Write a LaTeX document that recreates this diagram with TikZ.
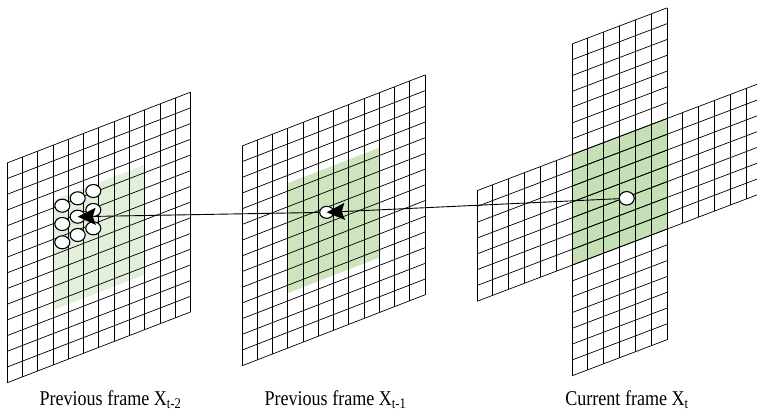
\documentclass[tikz,border=0pt]{standalone}
\usepackage{fontspec}
\setmainfont{Liberation Serif}
\newfontfamily\capfont[FakeStretch=0.86]{Liberation Serif}
\usepackage{tikz}
\usetikzlibrary{arrows.meta,shapes.geometric}

\definecolor{paleGreen}{HTML}{E2EFDA}
\definecolor{midGreen}{HTML}{CDE4BC}
\definecolor{deepGreen}{HTML}{C5E0B4}

\tikzset{
  gridline/.style={black,line width=0.7pt},
  pixel/.style={draw,fill=white,ellipse,inner sep=0pt,minimum width=15pt,minimum height=13pt,line width=1.1pt},
  motion/.style={line width=0.9pt,-{Stealth[length=18pt,width=17pt,inset=3pt]}},
  caption/.style={font=\capfont\fontsize{21}{24}\selectfont,anchor=base}
}

% grid of a frame: #1 columns, #2 rows
\newcommand{\framegrid}[2]{%
  \foreach \i in {0,...,#1} \draw[gridline] (\i,0) -- (\i,#2);
  \foreach \j in {0,...,#2} \draw[gridline] (0,\j) -- (#1,\j);
}

\begin{document}
\begin{tikzpicture}[x=1pt,y=-1pt]
  \useasboundingbox (0,0) rectangle (757,410);

  % previous frame t-2
  \begin{scope}[shift={(7,163)},x=15.3pt,y=-15.7pt,yslant=0.386]
    \fill[paleGreen] (3,3.5) -- (9,3.5) -- (9,10.5) -- (3,10.5) -- cycle;
    \framegrid{12}{14}
  \end{scope}

  % previous frame t-1
  \begin{scope}[shift={(242,146)},x=15.25pt,y=-15.7pt,yslant=0.388]
    \fill[midGreen] (3,3.5) -- (9,3.5) -- (9,10.5) -- (3,10.5) -- cycle;
    \framegrid{12}{14}
  \end{scope}

  % current frame t (cross)
  \begin{scope}[shift={(572,44)},x=15.83pt,y=-15.8pt,yslant=0.38]
    \fill[deepGreen] (0,7) -- (6,7) -- (6,14) -- (0,14) -- cycle;
    \framegrid{6}{21}
  \end{scope}
  \begin{scope}[shift={(477,190.7)},x=15.83pt,y=-15.8pt,yslant=0.38]
    \framegrid{18}{7}
  \end{scope}

  % search points
  \node[pixel] (pL1) at (62.3,205.7) {};
  \node[pixel] (pL2) at (62.3,224) {};
  \node[pixel] (pL3) at (62.3,242.3) {};
  \node[pixel] (pL4) at (77.7,198.3) {};
  \node[pixel] (pL5) at (77.7,216.7) {};
  \node[pixel] (pL6) at (77.7,235) {};
  \node[pixel] (pL7) at (93.3,191) {};
  \node[pixel] (pL8) at (93.3,210) {};
  \node[pixel] (pL9) at (93.3,228.3) {};
  \node[pixel,minimum width=14pt,minimum height=12pt] (pM) at (326.7,212.3) {};
  \node[pixel,minimum height=13.5pt] (pR) at (626.7,198.3) {};

  \draw[motion] (pR) -- (pM.center);
  \draw[motion] (pM) -- (pL5.center);

  \node[caption] (capA) at (110.5,405) {Previous frame X\textsubscript{t-2}};
  \node[caption] (capB) at (335.5,405) {Previous frame X\textsubscript{t-1}};
  \node[caption] (capC) at (627,405) {Current frame X\textsubscript{t}};
\end{tikzpicture}
\end{document}
